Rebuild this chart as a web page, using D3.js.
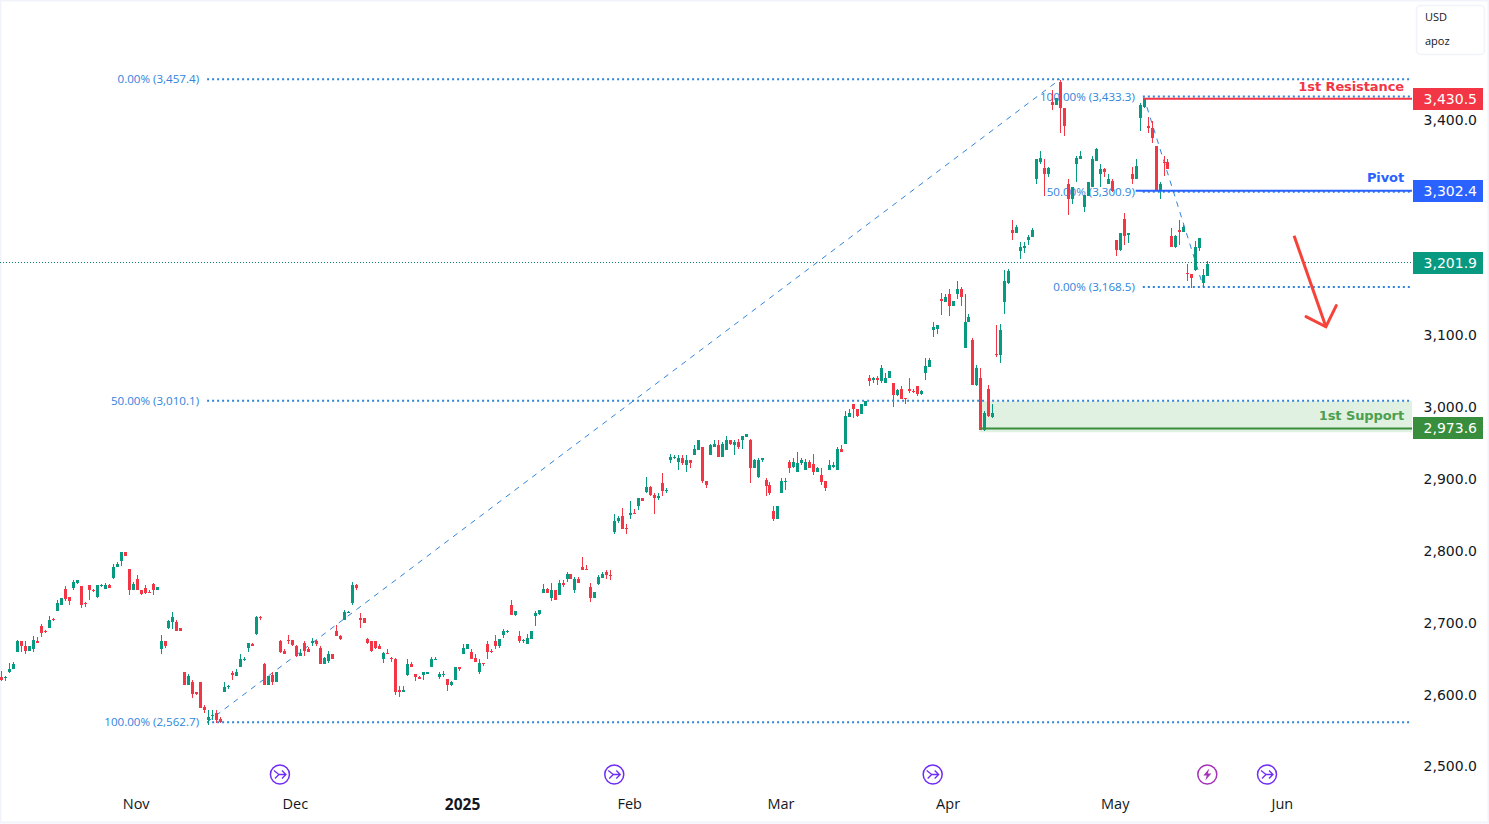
<!DOCTYPE html>
<html>
<head>
<meta charset="utf-8">
<script src="https://cdn.jsdelivr.net/npm/d3@7"></script>
<style>
  html, body { margin: 0; padding: 0; background: #fff; }
  svg { display: block; }
</style>
</head>
<body>
<div class="chart"></div>
<script>
var svgWidth = 1489;
var svgHeight = 824;

// candle values (one entry per bar)
var opens = [
  2626,2624,2632,2636,2661,2675,2668,2662,2665,2676,
  2696,2689,2694,2706,2718,2726,2748,2737,2750,2757,
  2752,2728,2754,2747,2737,2752,2748,2754,2764,2778,
  2787,2799,2776,2746,2762,2747,2750,2744,2755,2747,
  2664,2675,2694,2702,2702,2694,2633,2615,2618,2604,
  2618,2584,2565,2572,2576,2567,2605,2612,2631,2627,
  2640,2649,2666,2672,2686,2709,2644,2615,2629,2618,
  2675,2662,2677,2677,2669,2655,2673,2665,2673,2675,
  2666,2644,2648,2658,2689,2683,2705,2715,2729,2754,
  2708,2707,2679,2675,2675,2668,2651,2659,2652,2651,
  2608,2604,2629,2643,2630,2626,2629,2630,2639,2650,
  2626,2629,2623,2615,2622,2639,2657,2665,2661,2652,
  2633,2645,2672,2662,2676,2669,2684,2688,2726,2712,
  2683,2676,2671,2679,2710,2713,2743,2748,2735,2746,
  2739,2757,2762,2769,2746,2762,2779,2776,2751,2735,
  2755,2764,2772,2768,2827,2842,2849,2833,2851,2854,
  2864,2874,2883,2890,2879,2874,2895,2885,2927,2931,
  2925,2931,2920,2927,2934,2942,2945,2899,2935,2946,
  2949,2932,2942,2955,2948,2952,2955,2960,2956,2916,
  2904,2927,2900,2893,2857,2846,2881,2898,2925,2918,
  2911,2923,2913,2925,2922,2911,2906,2899,2913,2918,
  2914,2943,2950,2988,3006,2999,2992,3003,3042,3039,
  3041,3038,3035,3041,3035,3018,3027,3014,3027,3024,
  3030,3020,3048,3057,3109,3110,3151,3148,3159,3142,
  3158,3165,3083,3119,3094,3032,3041,2970,3027,2988,
  3075,3074,3148,3174,3247,3243,3218,3223,3234,3238,
  3318,3343,3334,3325,3426,3422,3454,3418,3311,3291,
  3339,3347,3280,3295,3308,3344,3325,3333,3311,3316,
  3234,3220,3263,3241,3326,3319,3403,3419,3393,3390,
  3365,3304,3343,3343,3240,3224,3247,3245,3188,3187,
  3192,3223,3174,3184
];
var highs = [
  2634,2627,2645,2647,2677,2676,2675,2668,2683,2681,
  2699,2691,2711,2708,2733,2735,2752,2737,2760,2761,
  2752,2730,2754,2748,2753,2755,2757,2755,2783,2785,
  2799,2800,2776,2758,2768,2747,2753,2747,2757,2751,
  2684,2675,2705,2716,2705,2694,2633,2630,2622,2605,
  2619,2587,2580,2580,2579,2570,2618,2615,2634,2636,
  2657,2654,2673,2673,2711,2711,2645,2627,2632,2632,
  2677,2664,2684,2677,2670,2665,2676,2667,2680,2677,
  2669,2654,2662,2658,2698,2684,2719,2718,2758,2755,
  2714,2708,2680,2675,2676,2671,2661,2664,2654,2652,
  2613,2613,2651,2647,2630,2627,2633,2632,2654,2654,
  2633,2634,2623,2620,2640,2639,2672,2672,2665,2657,
  2651,2645,2675,2664,2684,2679,2693,2691,2733,2718,
  2690,2679,2686,2689,2718,2719,2755,2750,2757,2747,
  2760,2760,2771,2769,2765,2765,2793,2781,2757,2744,
  2767,2772,2775,2774,2852,2849,2861,2838,2870,2860,
  2875,2875,2904,2892,2881,2881,2909,2888,2936,2934,
  2934,2934,2935,2928,2948,2956,2946,2899,2950,2955,
  2956,2952,2961,2956,2956,2957,2961,2964,2957,2929,
  2931,2931,2902,2897,2864,2864,2903,2902,2928,2931,
  2939,2931,2929,2927,2936,2918,2916,2899,2927,2925,
  2945,2948,2996,2998,3006,2999,3006,3009,3046,3043,
  3045,3060,3049,3052,3035,3027,3030,3014,3041,3027,
  3030,3025,3070,3069,3120,3115,3160,3158,3166,3149,
  3176,3169,3158,3131,3098,3060,3055,2996,3032,3006,
  3115,3117,3192,3194,3262,3255,3231,3231,3241,3250,
  3347,3357,3347,3336,3442,3432,3456,3418,3318,3307,
  3350,3358,3297,3315,3350,3362,3339,3334,3326,3319,
  3234,3243,3272,3243,3336,3346,3425,3432,3405,3400,
  3365,3315,3351,3347,3251,3241,3261,3254,3201,3187,
  3233,3237,3194,3204
];
var lows = [
  2620,2620,2631,2636,2661,2661,2658,2662,2661,2673,
  2681,2687,2694,2703,2718,2726,2731,2726,2746,2755,
  2721,2723,2733,2744,2736,2751,2748,2750,2762,2778,
  2780,2794,2740,2746,2746,2740,2741,2743,2740,2747,
  2658,2666,2693,2693,2689,2689,2615,2615,2597,2600,
  2583,2576,2559,2566,2562,2562,2605,2609,2622,2627,
  2639,2648,2661,2668,2684,2705,2615,2615,2615,2618,
  2659,2657,2672,2669,2654,2655,2655,2661,2669,2669,
  2644,2644,2645,2651,2682,2677,2705,2715,2726,2747,
  2694,2701,2671,2661,2665,2665,2645,2658,2647,2600,
  2598,2604,2627,2640,2620,2623,2622,2630,2639,2650,
  2623,2626,2606,2613,2622,2634,2657,2665,2650,2647,
  2630,2641,2651,2659,2664,2666,2680,2687,2712,2711,
  2673,2673,2671,2679,2696,2712,2742,2743,2732,2733,
  2739,2751,2758,2762,2743,2757,2774,2775,2730,2735,
  2754,2764,2762,2760,2824,2840,2832,2824,2845,2853,
  2858,2870,2882,2878,2853,2872,2877,2882,2924,2929,
  2914,2921,2911,2917,2934,2941,2895,2888,2935,2946,
  2932,2932,2942,2948,2934,2943,2943,2960,2895,2916,
  2902,2925,2877,2879,2842,2846,2881,2886,2909,2917,
  2911,2921,2913,2916,2907,2911,2893,2884,2913,2917,
  2913,2938,2950,2988,2986,2988,2992,3003,3030,3035,
  3032,3035,3035,3041,3002,3017,3013,3006,3021,3021,
  3016,3018,3039,3057,3099,3103,3130,3147,3128,3142,
  3151,3142,3083,3119,3032,3031,2970,2968,2988,2986,
  3071,3062,3131,3173,3234,3243,3208,3215,3227,3238,
  3311,3339,3295,3322,3415,3422,3382,3378,3269,3284,
  3315,3346,3273,3295,3308,3344,3308,3322,3311,3301,
  3211,3219,3227,3230,3312,3319,3386,3418,3383,3369,
  3302,3291,3323,3332,3224,3223,3227,3245,3176,3167,
  3191,3218,3167,3184
];
var closes = [
  2621,2626,2637,2644,2675,2668,2662,2668,2677,2673,
  2687,2688,2705,2705,2728,2735,2734,2732,2758,2761,
  2726,2727,2746,2746,2753,2754,2754,2750,2779,2783,
  2799,2794,2746,2755,2746,2741,2743,2743,2747,2751,
  2675,2668,2704,2709,2690,2689,2615,2627,2602,2602,
  2583,2579,2570,2573,2566,2563,2612,2613,2629,2633,
  2650,2650,2673,2669,2709,2708,2615,2627,2618,2632,
  2661,2658,2676,2670,2655,2659,2662,2661,2675,2671,
  2644,2652,2658,2651,2682,2679,2716,2716,2754,2750,
  2705,2701,2673,2662,2666,2665,2659,2658,2650,2605,
  2604,2608,2643,2640,2625,2623,2632,2632,2651,2651,
  2630,2630,2615,2619,2639,2636,2666,2671,2651,2647,
  2645,2644,2661,2661,2669,2679,2689,2689,2712,2718,
  2676,2677,2680,2689,2715,2719,2748,2743,2747,2733,
  2757,2753,2769,2762,2762,2757,2775,2775,2735,2744,
  2765,2769,2767,2767,2843,2847,2832,2831,2854,2853,
  2874,2871,2890,2879,2874,2878,2885,2886,2932,2932,
  2931,2923,2927,2923,2943,2956,2898,2893,2948,2950,
  2932,2950,2955,2950,2952,2946,2961,2964,2916,2928,
  2928,2931,2892,2882,2846,2863,2899,2899,2917,2925,
  2924,2927,2925,2916,2911,2917,2897,2889,2920,2921,
  2943,2938,2989,2993,2998,2989,3005,3009,3038,3041,
  3039,3055,3042,3052,3018,3025,3013,3013,3023,3023,
  3020,3024,3059,3067,3112,3115,3149,3155,3142,3149,
  3165,3155,3120,3127,3032,3056,2970,2993,2989,2993,
  3073,3109,3176,3191,3243,3252,3224,3226,3238,3247,
  3346,3348,3325,3334,3422,3432,3417,3392,3291,3307,
  3348,3350,3297,3315,3347,3360,3333,3329,3318,3302,
  3220,3243,3240,3243,3319,3337,3421,3431,3389,3376,
  3304,3311,3341,3332,3224,3240,3245,3252,3186,3181,
  3224,3237,3185,3201
];

// axes
var priceTicks = [3400, 3300, 3200, 3100, 3000, 2900, 2800, 2700, 2600, 2500];
var monthBars = [34, 74, 116, 158, 196, 238, 280, 322];
var monthNames = ["Nov", "Dec", "2025", "Feb", "Mar", "Apr", "May", "Jun"];

// fibonacci drawings
var fibLongPrices = [3457.4, 3010.1, 2562.7];
var fibLongLabels = ["0.00% (3,457.4)", "50.00% (3,010.1)", "100.00% (2,562.7)"];
var fibShortPrices = [3433.3, 3300.9, 3168.5];
var fibShortLabels = ["100.00% (3,433.3)", "50.00% (3,300.9)", "0.00% (3,168.5)"];
var fibLongBar = 51.7;
var fibShortBar = 286.8;
var trendBars = [[51.7, 2562.7, 266, 3457.4], [287, 3433.3, 302, 3168.5]];

// levels: resistance, pivot, support
var levelNames = ["1st Resistance", "Pivot", "1st Support"];
var levelPrices = [3430.5, 3302.4, 2971.5];
var levelLabels = ["3,430.5", "3,302.4", "2,973.6"];
var levelStartBars = [287, 285, 246];
var levelColors = ["#f23645", "#2962ff", "#388e3c"];
var levelTextColors = ["#f23645", "#2962ff", "#4c9f50"];
var levelNamePrices = [3447.5, 3320.5, 2989];
var supportZone = [3009.3, 2966.2];

var lastPrice = 3201.9;

// arrow: shaft start, tip, then the two ends of the head
var arrowBars = [324.8, 332.8, 327.8, 335.4];
var arrowPrices = [3239.8, 3113, 3127.1, 3142.4];

// event markers under the candles
var eventBars = [70, 154, 234, 303, 318];
var eventKinds = ["arrow", "arrow", "arrow", "bolt", "arrow"];

var chartRight = 1412;

var svg = d3.select(".chart")
    .append("svg")
    .attr("width", svgWidth)
    .attr("height", svgHeight)
    .style("font-family", "'DejaVu Sans', sans-serif");

var xScale = d3.scaleLinear().domain([0, 303]).range([1.33, 1207.3]);
var yScale = d3.scaleLinear().domain([2500, 3400]).range([767.2, 120.55]);

svg.append("rect")
    .attr("x", 0.5).attr("y", 0.5)
    .attr("width", svgWidth - 1).attr("height", svgHeight - 2)
    .attr("fill", "#fff").attr("stroke", "#f0f3fa").attr("stroke-width", 2);

// price axis, chips go on top of it later
var yAxis = d3.axisRight(yScale).tickValues(priceTicks).tickSize(0).tickPadding(0)
    .tickFormat(d3.format(",.1f"));
var yAxisGroup = svg.append("g")
    .attr("transform", "translate(1477,-0.7)")
    .call(yAxis);
yAxisGroup.select(".domain").remove();
yAxisGroup.selectAll("text")
    .attr("text-anchor", "end")
    .attr("font-family", "'DejaVu Sans', sans-serif")
    .attr("font-size", 14)
    .attr("fill", "#131722");

// time axis
var xAxis = d3.axisBottom(xScale).tickValues(monthBars).tickSize(0).tickPadding(0)
    .tickFormat(function(d, i) { return monthNames[i]; });
var xAxisGroup = svg.append("g")
    .attr("transform", "translate(-1,798.5)")
    .call(xAxis);
xAxisGroup.select(".domain").remove();
xAxisGroup.selectAll("text")
    .attr("font-family", "'Open Sans', sans-serif")
    .attr("font-size", (d, i) => monthNames[i] === "2025" ? 15.5 : 14.5)
    .attr("fill", "#131722")
    .attr("font-weight", function(d, i) { return monthNames[i] === "2025" ? "bold" : "normal"; });

// support zone
svg.append("rect")
    .attr("x", xScale(levelStartBars[2]) - 1)
    .attr("y", yScale(supportZone[0]))
    .attr("width", chartRight - xScale(levelStartBars[2]) + 1)
    .attr("height", yScale(supportZone[1]) - yScale(supportZone[0]))
    .attr("fill", "#e0f0e1");

// current price line
svg.append("line")
    .attr("x1", 0).attr("x2", chartRight)
    .attr("y1", yScale(lastPrice)).attr("y2", yScale(lastPrice))
    .attr("stroke", "#067f6b").attr("stroke-width", 1).attr("stroke-dasharray", "1,2")
    .attr("shape-rendering", "crispEdges");

// fibonacci lines and labels
function drawFib(prices, labels, startBar) {
    svg.selectAll(null).data(prices).enter().append("line")
        .attr("x1", xScale(startBar)).attr("x2", chartRight)
        .attr("y1", d => yScale(d)).attr("y2", d => yScale(d))
        .attr("stroke", "#2f84dc").attr("stroke-width", 2).attr("stroke-dasharray", "2,3");
    svg.selectAll(null).data(prices).enter().append("text")
        .attr("x", xScale(startBar) - 8)
        .attr("y", d => yScale(d) + 4)
        .attr("text-anchor", "end")
        .attr("font-family", "'Open Sans', sans-serif")
        .attr("font-size", 11.6)
        .attr("fill", "#2f84dc")
        .text((d, i) => labels[i]);
}
drawFib(fibLongPrices, fibLongLabels, fibLongBar);
drawFib(fibShortPrices, fibShortLabels, fibShortBar);

// dashed trend lines
svg.selectAll(null).data(trendBars).enter().append("line")
    .attr("x1", d => xScale(d[0])).attr("y1", d => yScale(d[1]))
    .attr("x2", d => xScale(d[2])).attr("y2", d => yScale(d[3]))
    .attr("stroke", "#2f84dc").attr("stroke-width", 1).attr("stroke-dasharray", "5.5,5.5");

// candles
var candleGroup = svg.append("g").attr("shape-rendering", "crispEdges");
var candleColor = (d, i) => closes[i] >= opens[i] ? "#089981" : "#f23645";

candleGroup.selectAll(".wick").data(opens).enter().append("rect")
    .attr("class", "wick")
    .attr("x", (d, i) => Math.round(xScale(i)))
    .attr("y", (d, i) => yScale(highs[i]))
    .attr("width", 1)
    .attr("height", (d, i) => yScale(lows[i]) - yScale(highs[i]))
    .attr("fill", candleColor);

candleGroup.selectAll(".body").data(opens).enter().append("rect")
    .attr("class", "body")
    .attr("x", (d, i) => Math.round(xScale(i)) - 1)
    .attr("y", (d, i) => yScale(Math.max(opens[i], closes[i])))
    .attr("width", 3)
    .attr("height", (d, i) => Math.max(1, Math.abs(yScale(opens[i]) - yScale(closes[i]))))
    .attr("fill", candleColor);

// levels
svg.selectAll(null).data(levelPrices).enter().append("line")
    .attr("x1", (d, i) => xScale(levelStartBars[i])).attr("x2", chartRight)
    .attr("y1", d => yScale(d)).attr("y2", d => yScale(d))
    .attr("stroke", (d, i) => levelColors[i]).attr("stroke-width", 2);

svg.selectAll(null).data(levelNames).enter().append("text")
    .attr("x", 1404)
    .attr("y", (d, i) => yScale(levelNamePrices[i]) + 4.5)
    .attr("text-anchor", "end")
    .attr("font-size", 13)
    .attr("font-weight", "bold")
    .attr("letter-spacing", -0.1)
    .attr("fill", (d, i) => levelTextColors[i])
    .text(d => d);

// price chips
var chipPrices = levelPrices.concat([lastPrice]);
var chipLabels = levelLabels.concat(["3,201.9"]);
var chipColors = levelColors.concat(["#089981"]);

svg.selectAll(null).data(chipPrices).enter().append("rect")
    .attr("x", 1413).attr("width", 70)
    .attr("y", d => Math.round(yScale(d)) - 11).attr("height", 22)
    .attr("fill", (d, i) => chipColors[i]);
svg.selectAll(null).data(chipPrices).enter().append("text")
    .attr("x", 1477)
    .attr("y", d => Math.round(yScale(d)) + 5)
    .attr("text-anchor", "end")
    .attr("font-size", 14)
    .attr("fill", "#fff")
    .text((d, i) => chipLabels[i]);

// arrow
var arrowColor = "#f7423a";
svg.append("path")
    .attr("d", d3.line()([
        [xScale(arrowBars[0]), yScale(arrowPrices[0])],
        [xScale(arrowBars[1]), yScale(arrowPrices[1])]
    ]))
    .attr("stroke", arrowColor).attr("stroke-width", 3).attr("fill", "none");
svg.append("path")
    .attr("d", d3.line()([
        [xScale(arrowBars[2]), yScale(arrowPrices[2])],
        [xScale(arrowBars[1]), yScale(arrowPrices[1])],
        [xScale(arrowBars[3]), yScale(arrowPrices[3])]
    ]))
    .attr("stroke", arrowColor).attr("stroke-width", 3).attr("fill", "none")
    .attr("stroke-linecap", "round");

// event markers
var eventGroups = svg.selectAll(null).data(eventBars).enter().append("g")
    .attr("transform", d => "translate(" + xScale(d) + ",774.5)");
eventGroups.append("circle")
    .attr("r", 9.5)
    .attr("fill", "#fff")
    .attr("stroke", (d, i) => eventKinds[i] === "bolt" ? "#a431b8" : "#6f2cf5")
    .attr("stroke-width", 1.5);
eventGroups.append("path")
    .attr("d", (d, i) => eventKinds[i] === "bolt"
        ? "M2,-6 L-4,1 L-0.5,1 L-2,6 L4,-1 L0.5,-1 Z"
        : "M-6,-4 L-1,0 L-5,4 M-1,0 L6,0 M2,-4 L6,0 L2,4")
    .attr("fill", (d, i) => eventKinds[i] === "bolt" ? "#a431b8" : "none")
    .attr("stroke", (d, i) => eventKinds[i] === "bolt" ? "none" : "#6f2cf5")
    .attr("stroke-width", 1.3);

// currency box
svg.append("rect")
    .attr("x", 1416.5).attr("y", 5.5)
    .attr("width", 68).attr("height", 49).attr("rx", 4)
    .attr("fill", "#fff").attr("stroke", "#f0f3fa").attr("stroke-width", 1.5);
svg.selectAll(null).data(["USD", "apoz"]).enter().append("text")
    .attr("x", 1425)
    .attr("y", (d, i) => 21 + i * 24)
    .attr("font-family", "'Open Sans', sans-serif")
    .attr("font-size", 11)
    .attr("fill", "#131722")
    .text(d => d);
</script>
</body>
</html>
